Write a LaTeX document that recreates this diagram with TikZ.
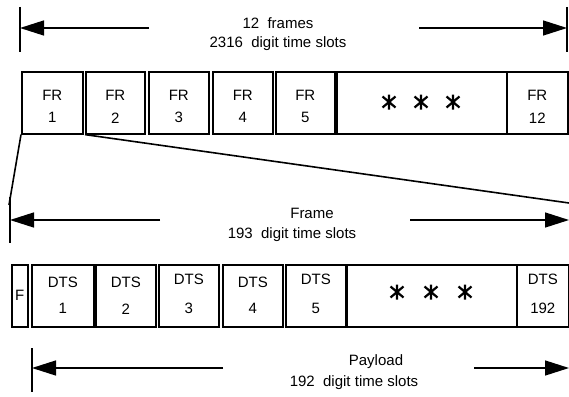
\documentclass[tikz,border=0pt]{standalone}
\usepackage{fontspec}
\setmainfont{Liberation Sans}
\usetikzlibrary{arrows.meta}
\begin{document}
\begin{tikzpicture}[x=1pt,y=-1pt,line join=miter,
  box/.style={draw,line width=1.6pt,inner sep=0pt,anchor=north west},
  lbl/.style={font=\fontsize{15}{17}\selectfont,inner sep=0pt},
  dim/.style={line width=1.4pt,-{Triangle[length=24pt,width=15pt]}},
  tickline/.style={line width=1.8pt},
  slant/.style={line width=1.6pt},
  astk/.pic={\draw[line width=2.2pt] (0,-7.5)--(0,7.5) (-6.5,-5.5)--(6.5,5.5) (-6.5,5.5)--(6.5,-5.5);}]
\useasboundingbox (0,0) rectangle (569,396);

% ---------- top dimension ----------
\coordinate (tlt) at (20,7); \coordinate (tlb) at (20,52);
\coordinate (trt) at (567,7); \coordinate (trb) at (567,52);
\draw[tickline] (tlt) -- (tlb);
\draw[tickline] (trt) -- (trb);
\coordinate (tl) at (20,28); \coordinate (tr) at (567,28);
\coordinate (tla) at (149,28); \coordinate (tra) at (419,28);
\draw[dim] (tla) -- (tl);
\draw[dim] (tra) -- (tr);
\node[lbl] (t1) at (278,23) {12\ \ frames};
\node[lbl] (t2) at (278,44) {2316\ \ digit time slots};

% ---------- top boxes ----------
\node[box,minimum width=61pt,minimum height=62pt] (fr1) at (21,71) {};
\node[box,minimum width=59pt,minimum height=62pt] (fr2) at (85,71) {};
\node[box,minimum width=60pt,minimum height=62pt] (fr3) at (148,71) {};
\node[box,minimum width=60pt,minimum height=62pt] (fr4) at (212,71) {};
\node[box,minimum width=59pt,minimum height=62pt] (fr5) at (275,71) {};
\node[box,minimum width=170pt,minimum height=62pt] (frs) at (336,71) {};
\node[box,minimum width=61pt,minimum height=62pt] (fr12) at (506,71) {};
\foreach \n/\t in {fr1/1,fr2/2,fr3/3,fr4/4,fr5/5,fr12/12}{
  \node[lbl] (\n a) at ([yshift=7pt]\n.center) {FR};
  \node[lbl] (\n b) at ([yshift=-15pt]\n.center) {\t};
}
\pic at (389,102) {astk};
\pic at (421,102) {astk};
\pic at (453,102) {astk};

% ---------- expansion lines ----------
\coordinate (sl) at (9,205);
\coordinate (sr) at (569,203);
\draw[slant] (fr1.south west) -- (sl);
\draw[slant] (fr2.south west) -- (sr);

% ---------- frame dimension ----------
\coordinate (ft) at (10,197); \coordinate (fb) at (10,243);
\draw[tickline] (ft) -- (fb);
\coordinate (fl) at (10,220); \coordinate (fr) at (569,220);
\coordinate (fla) at (160,220); \coordinate (fra) at (410,220);
\draw[dim] (fla) -- (fl);
\draw[dim] (fra) -- (fr);
\node[lbl] (f1) at (312,213) {Frame};
\node[lbl] (f2) at (292,235) {193\ \ digit time slots};

% ---------- bottom boxes ----------
\node[box,minimum width=16pt,minimum height=62pt] (bf) at (11,264) {};
\node[box,minimum width=62pt,minimum height=62pt] (d1) at (31,264) {};
\node[box,minimum width=60pt,minimum height=62pt] (d2) at (95,264) {};
\node[box,minimum width=60pt,minimum height=62pt] (d3) at (158,264) {};
\node[box,minimum width=60pt,minimum height=62pt] (d4) at (222,264) {};
\node[box,minimum width=60pt,minimum height=62pt] (d5) at (285,264) {};
\node[box,minimum width=170pt,minimum height=62pt] (ds) at (346,264) {};
\node[box,minimum width=52pt,minimum height=62pt] (d192) at (516,264) {};
\node[lbl] (fl1) at (bf.center) {F};
\foreach \n/\t/\s in {d1/1/0,d2/2/0,d3/3/3,d4/4/0,d5/5/3,d192/192/3}{
  \node[lbl] (\n a) at ([yshift=13pt+\s pt]\n.center) {DTS};
  \node[lbl] (\n b) at ([yshift=-13pt]\n.center) {\t};
}
\pic at (397,292) {astk};
\pic at (431,292) {astk};
\pic at (465,292) {astk};

% ---------- payload dimension ----------
\coordinate (pt) at (32,348); \coordinate (pb) at (32,392);
\draw[tickline] (pt) -- (pb);
\coordinate (pl) at (32,368); \coordinate (pr) at (569,368);
\coordinate (pla) at (223,368); \coordinate (pra) at (474,368);
\draw[dim] (pla) -- (pl);
\draw[dim] (pra) -- (pr);
\node[lbl] (p1) at (376,362) {Payload};
\node[lbl] (p2) at (354,383) {192\ \ digit time slots};
\end{tikzpicture}
\end{document}
